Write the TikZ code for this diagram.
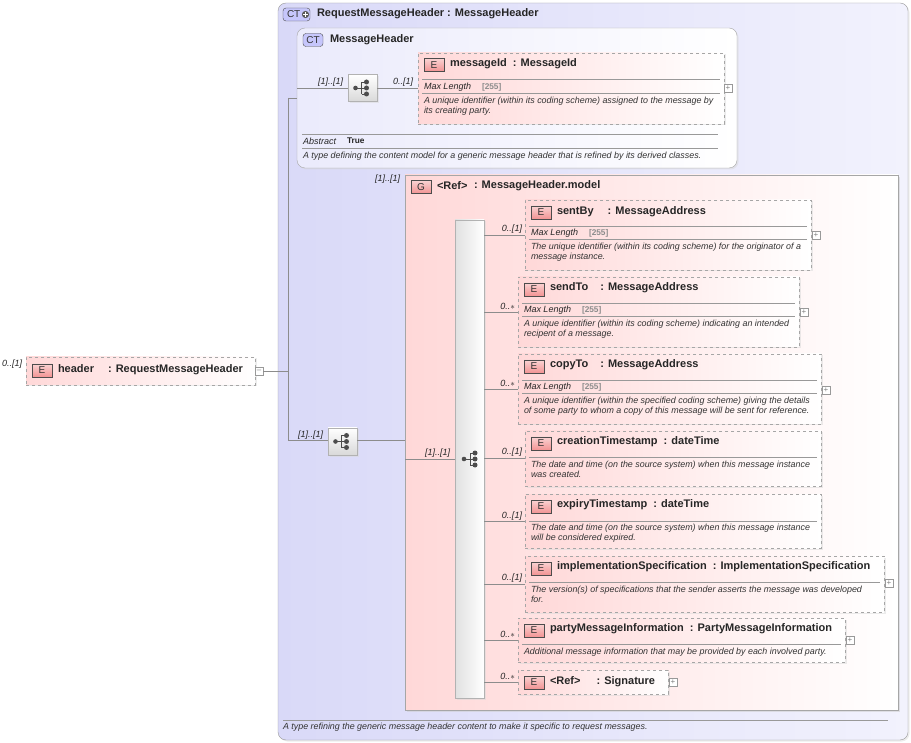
\documentclass[tikz,border=0pt]{standalone}
\usepackage{fontspec}
\setmainfont{Liberation Sans}
\usetikzlibrary{shadows,calc}
\definecolor{lav}{HTML}{D9D9F8}
\definecolor{lavl}{HTML}{F2F2FD}
\definecolor{pnk}{HTML}{FFD8D8}
\definecolor{bdg}{HTML}{F08080}
\tikzset{
  every node/.style={inner sep=0pt, outer sep=0pt},
  ttl/.style={font=\fontsize{11}{12}\selectfont\bfseries, text=black!85, anchor=west},
  lbl/.style={font=\fontsize{9}{10}\selectfont\itshape, text=black!85, anchor=west},
  dsc/.style={font=\fontsize{8.9}{10}\selectfont\itshape, text=black!80, anchor=north west, align=left},
  val/.style={font=\fontsize{8.3}{10}\selectfont\bfseries, text=black!45, anchor=west},
  elem/.style={draw=black!35, dashed, line width=0.8pt, left color=pnk, right color=white,
    anchor=north west, drop shadow={shadow xshift=1.5pt, shadow yshift=-1.5pt, fill=black!15}},
  ebadge/.style={draw=black!70, top color=bdg!35, bottom color=bdg!85, minimum width=20pt,
    minimum height=13pt, font=\fontsize{10}{10}\selectfont, text=black!80},
  ctbadge/.style={draw=black!70, fill=lav!80!blue!70, rounded corners=3pt, minimum width=20pt,
    minimum height=13pt, font=\fontsize{10}{10}\selectfont, text=black!80},
  seq/.style={draw=black!30, top color=white, bottom color=black!15, minimum width=29pt,
    minimum height=27pt, drop shadow={shadow xshift=1.5pt, shadow yshift=-1.5pt, fill=black!15}},
  conn/.style={draw=black!45, line width=0.6pt},
  sep/.style={draw=black!40, line width=0.5pt},
  pm/.style={draw=black!40, fill=white, minimum size=8pt, font=\fontsize{8}{8}\selectfont, text=black!50},
}
\newcommand{\seqicon}[1]{%
  \draw[black!70, line width=0.9pt] ($(#1)+(-7,0)$) -- ($(#1)+(-1,0)$) ($(#1)+(-1,-6)$) -- ($(#1)+(-1,6)$)
    ($(#1)+(-1,-6)$) -- ($(#1)+(4,-6)$) ($(#1)+(-1,6)$) -- ($(#1)+(4,6)$) ($(#1)+(-1,0)$) -- ($(#1)+(4,0)$);
  \fill[black!70] ($(#1)+(-7,0)$) circle (2.3pt);
  \foreach \d in {-6,0,6} \fill[black!70] ($(#1)+(4,\d)$) circle (2.5pt);}
\begin{document}
\begin{tikzpicture}[x=1pt,y=-1pt]
\useasboundingbox (0,0) rectangle (911,743);

% outer complex type
\node[draw=black!40, rounded corners=8pt, left color=lav, right color=lavl, anchor=north west,
  minimum width=630pt, minimum height=737pt,
  drop shadow={shadow xshift=1.5pt, shadow yshift=-1.5pt, fill=black!15}] (rmh) at (278,3) {};
\node[ctbadge, minimum width=27pt] (ctp) at (296.5,14.5) {};
\node[font=\fontsize{10}{10}\selectfont, text=black!80, anchor=west] at (287,14.5) {CT};
\fill[black!65] (305.5,14.5) circle (3.6pt);
\draw[white, line width=1.2pt] (303,14.5) -- (308,14.5) (305.5,12) -- (305.5,17);
\node[ttl] (rmht) at (317,14) {RequestMessageHeader\hspace{3pt}: MessageHeader};
\draw[sep] (283,720) -- (888,720);
\node[dsc] (rmhd) at (283,723) {A type refining the generic message header content to make it specific to request messages.};

% base type MessageHeader
\node[draw=black!35, rounded corners=8pt, left color=lavl!70!lav, right color=white, anchor=north west,
  minimum width=440pt, minimum height=140pt,
  drop shadow={shadow xshift=1.5pt, shadow yshift=-1.5pt, fill=black!15}] (mh) at (297,28) {};
\node[ctbadge] (ct) at (313,40) {CT};
\node[ttl] (mht) at (330,40) {MessageHeader};
\draw[sep] (302,134) -- (718,134);
\node[lbl] at (303,141) {Abstract};
\node[font=\fontsize{8.3}{10}\selectfont\bfseries, anchor=west, text=black!85] at (347,141) {True};
\draw[sep] (302,148) -- (718,148);
\node[dsc] at (303,152) {A type defining the content model for a generic message header that is refined by its derived classes.};

\node[seq] (sq1) at (362.5,88) {};
\seqicon{sq1}
\node[lbl] at (318,82) {[1]..[1]};
\node[lbl] at (393,82) {0..[1]};

\node[elem, minimum width=306pt, minimum height=71pt] (mid) at (418,53) {};
\node[ebadge] at (434,65) {E};
\node[ttl] at (450,64) {messageId\hspace{3pt} : MessageId};
\draw[sep] (422,79) -- (720,79);
\node[lbl] at (424,87) {Max Length}; \node[val] at (482,87) {[255]};
\draw[sep] (422,93) -- (720,93);
\node[dsc] at (424,97) {A unique identifier (within its coding scheme) assigned to the message by\\its creating party.};
\node[pm] (pmid) at (728,88) {+};

% group
\node[draw=black!35, line width=0.8pt, left color=pnk, right color=white, anchor=north west,
  minimum width=493pt, minimum height=535pt,
  drop shadow={shadow xshift=2pt, shadow yshift=-2pt, fill=black!20}] (grp) at (405,175) {};
\node[ebadge] at (421,187) {G};
\node[ttl] at (437,186) {<Ref>};
\node[ttl] at (474,186) {: MessageHeader.model};
\node[lbl] at (375,179) {[1]..[1]};

\node[seq] (sq2) at (342.5,441.5) {};
\seqicon{sq2}
\node[lbl] at (298,435) {[1]..[1]};

\node[draw=black!30, left color=black!12, right color=white, anchor=north west,
  minimum width=29pt, minimum height=478pt,
  drop shadow={shadow xshift=1.5pt, shadow yshift=-1.5pt, fill=black!15}] (bar) at (455,220) {};
\coordinate (barc) at (471,459);
\seqicon{barc}
\node[lbl] at (425,453) {[1]..[1]};

% header element
\node[elem, minimum width=229pt, minimum height=28pt] (hdr) at (26,357) {};
\node[ebadge] at (42,370.5) {E};
\node[ttl] at (58,370) {header\hspace{14pt}: RequestMessageHeader};
\node[lbl] at (2,364) {0..[1]};
\node[pm] (pmh) at (259,371) {--};

% children
\node[elem, minimum width=286pt, minimum height=70pt] (sb) at (525,200) {};
\node[ebadge] at (541,212.5) {E};
\node[ttl] at (557,212) {sentBy\hspace{14pt}: MessageAddress};
\draw[sep] (529,226) -- (807,226);
\node[lbl] at (531,233) {Max Length}; \node[val] at (589,233) {[255]};
\draw[sep] (529,239) -- (807,239);
\node[dsc] at (531,243) {The unique identifier (within its coding scheme) for the originator of a\\message instance.};
\node[pm] (pmsb) at (816,235) {+};

\node[elem, minimum width=281pt, minimum height=70pt] (st) at (518,277) {};
\node[ebadge] at (534,289.5) {E};
\node[ttl] at (550,288) {sendTo\hspace{12pt}: MessageAddress};
\draw[sep] (522,303) -- (795,303);
\node[lbl] at (524,310) {Max Length}; \node[val] at (582,310) {[255]};
\draw[sep] (522,316) -- (795,316);
\node[dsc] at (524,320) {A unique identifier (within its coding scheme) indicating an intended\\recipent of a message.};
\node[pm] (pmst) at (804,312) {+};

\node[elem, minimum width=303pt, minimum height=70pt] (ct2) at (518,354) {};
\node[ebadge] at (534,366.5) {E};
\node[ttl] at (550,365) {copyTo\hspace{12pt}: MessageAddress};
\draw[sep] (522,380) -- (817,380);
\node[lbl] at (524,387) {Max Length}; \node[val] at (582,387) {[255]};
\draw[sep] (522,393) -- (817,393);
\node[dsc] at (524,397) {A unique identifier (within the specified coding scheme) giving the details\\of some party to whom a copy of this message will be sent for reference.};
\node[pm] (pmct) at (826,390) {+};

\node[elem, minimum width=296pt, minimum height=55pt] (cts) at (525,431) {};
\node[ebadge] at (541,443.5) {E};
\node[ttl] at (557,442) {creationTimestamp\hspace{3pt} : dateTime};
\draw[sep] (529,457) -- (817,457);
\node[dsc] at (531,461) {The date and time (on the source system) when this message instance\\was created.};

\node[elem, minimum width=296pt, minimum height=54pt] (ets) at (525,494) {};
\node[ebadge] at (541,506.5) {E};
\node[ttl] at (557,505) {expiryTimestamp\hspace{3pt} : dateTime};
\draw[sep] (529,521) -- (817,521);
\node[dsc] at (531,524) {The date and time (on the source system) when this message instance\\will be considered expired.};

\node[elem, minimum width=359pt, minimum height=56pt] (isp) at (525,556) {};
\node[ebadge] at (541,568.5) {E};
\node[ttl] at (557,567) {implementationSpecification\hspace{3pt} : ImplementationSpecification};
\draw[sep] (529,582) -- (880,582);
\node[dsc] at (531,586) {The version(s) of specifications that the sender asserts the message was developed\\for.};
\node[pm] (pmisp) at (889,583) {+};

\node[elem, minimum width=327pt, minimum height=44pt] (pmi) at (518,618) {};
\node[ebadge] at (534,630.5) {E};
\node[ttl] at (550,629) {partyMessageInformation\hspace{3pt} : PartyMessageInformation};
\draw[sep] (522,644) -- (841,644);
\node[dsc] at (524,648) {Additional message information that may be provided by each involved party.};
\node[pm] (pmpmi) at (850,640) {+};

\node[elem, minimum width=150pt, minimum height=24pt] (sig) at (518,670) {};
\node[ebadge] at (534,682.5) {E};
\node[ttl] at (550,682) {<Ref>\hspace{16pt}: Signature};
\node[pm] (pmsig) at (673,682) {+};

% occurrence labels
\node[lbl, anchor=east] at (522,229) {0..[1]};
\node[lbl, anchor=east] at (515,306) {0..$*$};
\node[lbl, anchor=east] at (515,383) {0..$*$};
\node[lbl, anchor=east] at (522,452) {0..[1]};
\node[lbl, anchor=east] at (522,516) {0..[1]};
\node[lbl, anchor=east] at (522,578) {0..[1]};
\node[lbl, anchor=east] at (515,634) {0..$*$};
\node[lbl, anchor=east] at (515,676) {0..$*$};

% connectors
\coordinate (j1) at (288,371);
\coordinate (j2) at (288,98);
\coordinate (j3) at (288,440);
\draw[conn] (pmh.east) -- (j1);
\draw[conn] (j2) -- (j3);
\draw[conn] (j2) -- (mh.west |- j2);
\draw[conn] (mh.west |- sq1) -- (sq1.west);
\draw[conn] (sq1.east) -- (mid.west |- sq1);
\draw[conn] (j3) -- (sq2.west |- j3);
\draw[conn] (sq2.east |- j3) -- (grp.west |- j3);
\draw[conn] (grp.west |- barc) -- (bar.west |- barc);
\foreach \n/\y in {sb/235,st/312,ct2/389,cts/458,ets/521,isp/584,pmi/640,sig/682}
  \draw[conn] (bar.east |- 0,\y) -- (\n.west |- 0,\y);
\end{tikzpicture}
\end{document}
